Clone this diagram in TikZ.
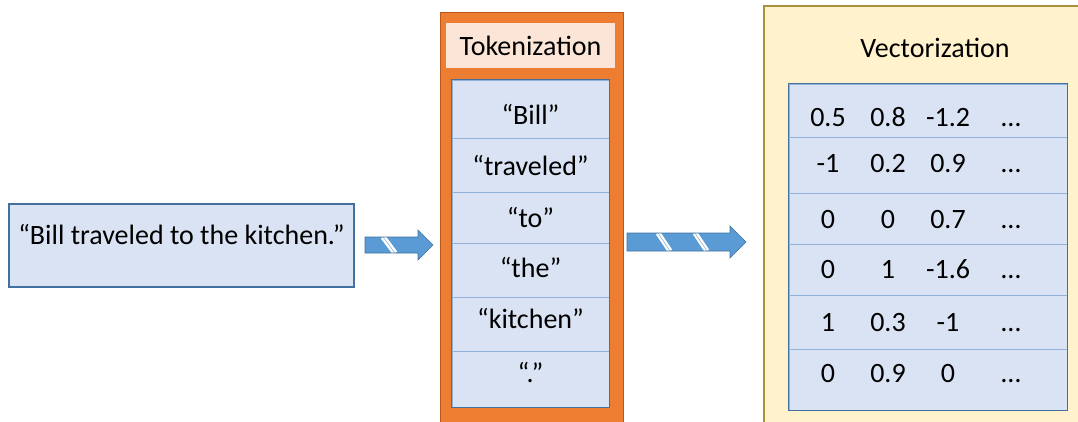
\documentclass[tikz,border=0pt]{standalone}
\usepackage{fontspec}
\setmainfont{Carlito}
\usetikzlibrary{calc}
\definecolor{boxblue}{HTML}{DAE3F3}
\definecolor{boxline}{HTML}{41719C}
\definecolor{rowline}{HTML}{92B2DA}
\definecolor{arrowfill}{HTML}{5B9BD5}
\definecolor{orangefill}{HTML}{ED7D31}
\definecolor{orangeline}{HTML}{B85A1E}
\definecolor{peach}{HTML}{FBE5D6}
\definecolor{cream}{HTML}{FFF2CC}
\definecolor{goldline}{HTML}{A8913A}
\newcommand\stripedarrow[8]{% x0, xb, xt, yc, shaft half, head half, stripe1 x, stripe2 x
  \fill[arrowfill] (#1,#4-#5) -- (#2,#4-#5) -- (#2,#4-#6) -- (#3,#4) -- (#2,#4+#6) -- (#2,#4+#5) -- (#1,#4+#5) -- cycle;
  \foreach \sx in {#7,#8}{
    \draw[white,line width=5pt] (\sx-6,#4-#5) -- (\sx+6,#4+#5);
    \draw[boxline!60,line width=0.5pt] (\sx-6,#4-#5) -- (\sx+6,#4+#5);
  }
  \draw[boxline,line width=0.6pt] (#1,#4-#5) -- (#2,#4-#5) -- (#2,#4-#6) -- (#3,#4) -- (#2,#4+#6) -- (#2,#4+#5) -- (#1,#4+#5) -- cycle;
}
\begin{document}
\begin{tikzpicture}[x=1pt,y=-1pt,
  every node/.style={inner sep=0pt},
  txt/.style={font=\fontsize{28}{33}\selectfont, anchor=base},
  inbox/.style={draw=boxline, line width=1.2pt, fill=boxblue},
  rowbox/.style={draw=rowline, line width=0.9pt, fill=boxblue, minimum width=#1},
  listframe/.style={draw=boxline, line width=1.4pt},
  orangebox/.style={draw=orangeline, line width=1pt, fill=orangefill},
  peachbox/.style={fill=peach},
  creambox/.style={draw=goldline, line width=1.2pt, fill=cream}
]
\useasboundingbox (0,0) rectangle (1078,421);

% input sentence
\node[inbox, minimum width=345pt, minimum height=83pt] (input) at (181.5,245.5) {};
\node[txt] (inputtext) at (181.5,244) {“Bill traveled to the kitchen.”};

% tokenization panel
\node[orangebox, minimum width=183pt, minimum height=420pt] (tokpanel) at (531.5,222) {};
\node[peachbox, minimum width=169pt, minimum height=45pt] (toktitle) at (530.5,45.5) {};
\node[txt] (toktitletext) at (530.5,55) {Tokenization};
\node[rowbox=157pt, minimum height=58pt] (t1) at (530.5,109) {};
\node[rowbox=157pt, minimum height=54pt] (t2) at (530.5,165) {};
\node[rowbox=157pt, minimum height=51pt] (t3) at (530.5,217.5) {};
\node[rowbox=157pt, minimum height=54pt] (t4) at (530.5,270) {};
\node[rowbox=157pt, minimum height=54pt] (t5) at (530.5,324) {};
\node[rowbox=157pt, minimum height=56pt] (t6) at (530.5,379) {};
\draw[listframe] (t1.north west) rectangle (t6.south east);
\node[txt] (w1) at (530.5,124) {“Bill”};
\node[txt] (w2) at (530.5,175) {“traveled”};
\node[txt] (w3) at (530.5,227) {“to”};
\node[txt] (w4) at (530.5,277) {“the”};
\node[txt] (w5) at (530.5,328) {“kitchen”};
\node[txt] (w6) at (530.5,382) {“.”};

% vectorization panel
\node[creambox, minimum width=320pt, minimum height=420pt] (vecpanel) at (924,216) {};
\node[txt] (vectitle) at (935,57) {Vectorization};
\node[rowbox=278pt, minimum height=53pt] (v1) at (928,110.5) {};
\node[rowbox=278pt, minimum height=56pt] (v2) at (928,165) {};
\node[rowbox=278pt, minimum height=51pt] (v3) at (928,218.5) {};
\node[rowbox=278pt, minimum height=51pt] (v4) at (928,269.5) {};
\node[rowbox=278pt, minimum height=54pt] (v5) at (928,322) {};
\node[rowbox=278pt, minimum height=61pt] (v6) at (928,379.5) {};
\draw[listframe] (v1.north west) rectangle (v6.south east);

\foreach \r/\y/\a/\b/\c in {1/126/0.5/0.8/-1.2, 2/172/-1/0.2/0.9, 3/228/0/0/0.7, 4/278/0/1/-1.6, 5/331/1/0.3/-1, 6/382/0/0.9/0}{
  \node[txt] (c\r a) at (828,\y) {\a};
  \node[txt] (c\r b) at (888,\y) {\b};
  \node[txt] (c\r c) at (948,\y) {\c};
  \node[txt] (c\r d) at (1011,\y) {…};
}

% block arrows
\stripedarrow{365}{418}{433}{245}{8}{15}{389}{389}
\stripedarrow{627}{730}{746}{242}{9}{16}{664}{701}
\end{tikzpicture}
\end{document}
